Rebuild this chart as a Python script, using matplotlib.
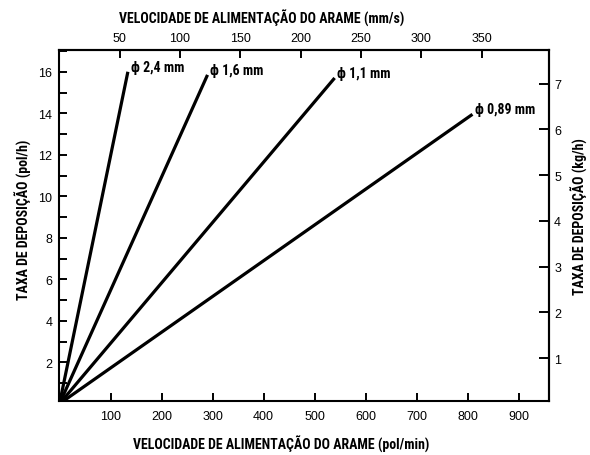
import matplotlib
matplotlib.use('Agg')
import matplotlib.pyplot as plt
from matplotlib.ticker import MultipleLocator, FixedLocator

# wire diameters and the end point of each line (feed in pol/min, rate in pol/h)
wire_dia = ['2,4', '1,6', '1,1', '0,89']
feed_end = [134, 290, 539, 809]
rate_end = [16.0, 15.85, 15.7, 13.95]

bottom_ticks = [100, 200, 300, 400, 500, 600, 700, 800, 900]
top_ticks = [50, 100, 150, 200, 250, 300, 350]
right_ticks = [1, 2, 3, 4, 5, 6, 7]

narrow = ['Roboto Condensed', 'PT Sans Narrow', 'Archivo Narrow', 'DejaVu Sans']
label_font = {'family': narrow, 'weight': 'bold', 'size': 10}
tick_font = 'Liberation Sans'

fig = plt.figure(figsize=(5.9, 4.56), dpi=100)
ax = fig.add_axes([0.1008, 0.1191, 0.8289, 0.7691])

for d, x1, y1 in zip(wire_dia, feed_end, rate_end):
    ax.plot([0, x1], [0, y1], color='black', lw=2.3, solid_capstyle='butt')
    ax.annotate('\u03d5 ' + d + ' mm', (x1, y1), xytext=(2, 3.5), textcoords='offset points',
                ha='left', va='center', **label_font)

ax.set_xlim(0, 958)
ax.set_ylim(0.15, 17.05)

for s in ax.spines.values():
    s.set_linewidth(1.5)

ax.xaxis.set_major_locator(FixedLocator(bottom_ticks))
ax.yaxis.set_major_locator(MultipleLocator(2))
ax.yaxis.set_minor_locator(MultipleLocator(1))
ax.tick_params(which='both', direction='in', length=6, width=1.4, labelsize=9)
ax.tick_params(axis='x', pad=7)
ax.tick_params(axis='y', pad=5)
for lab in ax.get_xticklabels() + ax.get_yticklabels():
    lab.set_family(tick_font)

ax.set_xlabel('VELOCIDADE DE ALIMENTAÇÃO DO ARAME (pol/min)', fontdict=label_font, labelpad=9)
ax.set_ylabel('TAXA DE DEPOSIÇÃO (pol/h)', fontdict=label_font, labelpad=5)
ax.xaxis.label.set_x(0.453)
ax.yaxis.label.set_y(0.52)

# top axis in mm/s, right axis in kg/h
top = ax.secondary_xaxis('top', functions=(lambda x: x * 25.4 / 60, lambda m: m * 60 / 25.4))
top.xaxis.set_major_locator(FixedLocator(top_ticks))
top.tick_params(direction='in', length=6, width=1.4, labelsize=9, pad=4)
top.spines['top'].set_linewidth(1.5)
for lab in top.get_xticklabels():
    lab.set_family(tick_font)
top.set_xlabel('VELOCIDADE DE ALIMENTAÇÃO DO ARAME (mm/s)', fontdict=label_font, labelpad=7)
top.xaxis.label.set_x(0.414)

right = ax.secondary_yaxis('right', functions=(lambda y: y * 0.4536, lambda k: k / 0.4536))
right.yaxis.set_major_locator(FixedLocator(right_ticks))
right.tick_params(direction='in', length=7, width=1.4, labelsize=9, pad=4)
right.spines['right'].set_linewidth(1.5)
for lab in right.get_yticklabels():
    lab.set_family(tick_font)
right.set_ylabel('TAXA DE DEPOSIÇÃO (kg/h)', fontdict=label_font, labelpad=7)
right.yaxis.label.set_y(0.527)

fig.savefig('out.png', dpi=100)
